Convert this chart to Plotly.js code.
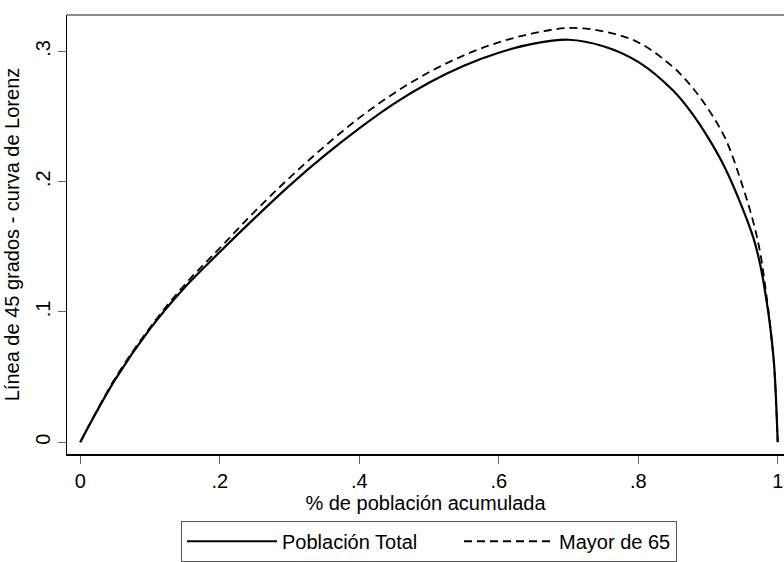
<!DOCTYPE html>
<html>
<head>
<meta charset="utf-8">
<script src="https://cdn.plot.ly/plotly-3.0.1.min.js"></script>
<style>
  html, body { margin: 0; padding: 0; background: #fff; }
  #chart { width: 784px; height: 562px; }
</style>
</head>
<body>
<div id="chart"></div>
<script>
// Cumulative population share (x)
const popShare = [0, 0.05, 0.1, 0.15, 0.2, 0.25, 0.3, 0.35, 0.4, 0.45, 0.5, 0.55, 0.6, 0.65, 0.7, 0.75, 0.8, 0.85, 0.875, 0.9, 0.925, 0.95, 0.965, 0.975, 0.985, 0.99, 0.995, 1];
// 45-degree line minus Lorenz curve
const totalPop = [0, 0.048, 0.087, 0.119, 0.146, 0.172, 0.197, 0.220, 0.241, 0.260, 0.276, 0.289, 0.299, 0.306, 0.309, 0.304, 0.292, 0.270, 0.254, 0.234, 0.210, 0.179, 0.157, 0.136, 0.105, 0.085, 0.058, 0];
const over65   = [0, 0.049, 0.088, 0.121, 0.149, 0.177, 0.203, 0.227, 0.249, 0.268, 0.284, 0.297, 0.307, 0.314, 0.318, 0.3155, 0.307, 0.288, 0.274, 0.256, 0.233, 0.196, 0.169, 0.145, 0.108, 0.086, 0.057, 0];

const seriesNames = ["Población Total", "Mayor de 65"];
const xTickVals = [0, 0.2, 0.4, 0.6, 0.8, 1];
const xTickText = ["0", ".2", ".4", ".6", ".8", "1"];
const yTickVals = [0, 0.1, 0.2, 0.3];
const yTickText = ["0", ".1", ".2", ".3"];

const font = "Liberation Sans, Arial, sans-serif";
const fs = 20;

const traces = [
  { x: popShare, y: totalPop, name: seriesNames[0], type: "scatter", mode: "lines",
    legendwidth: 172,
    line: { color: "#000", width: 2.2, shape: "spline", smoothing: 1 } },
  { x: popShare, y: over65, name: seriesNames[1], type: "scatter", mode: "lines",
    line: { color: "#000", width: 1.8, dash: "8px,5px", shape: "spline", smoothing: 1 } }
];

const layout = {
  width: 784, height: 562,
  margin: { l: 67, r: 0, t: 15, b: 102 },
  paper_bgcolor: "#fff", plot_bgcolor: "#fff",
  font: { family: font, size: fs, color: "#000" },
  showlegend: true,
  xaxis: {
    range: [-0.019, 1.009],
    tickvals: xTickVals, ticktext: xTickText,
    ticks: "outside", ticklen: 8, tickcolor: "#666", tickwidth: 1,
    showgrid: false, zeroline: false,
    showline: true, linecolor: "#000", linewidth: 2,
    tickfont: { family: font, size: fs },
    title: { text: "% de población acumulada", font: { family: font, size: fs }, standoff: 2 }
  },
  yaxis: {
    range: [-0.0091, 0.328],
    tickvals: yTickVals, ticktext: yTickText,
    tickangle: -90,
    ticks: "outside", ticklen: 8, tickcolor: "#666", tickwidth: 1,
    showgrid: false, zeroline: false,
    showline: true, linecolor: "#000", linewidth: 1.5,
    tickfont: { family: font, size: fs },
    title: { text: "Línea de 45 grados - curva de Lorenz", font: { family: font, size: fs }, standoff: 6 }
  },
  shapes: [
    { type: "line", xref: "paper", yref: "paper", x0: 0, x1: 1, y0: 1, y1: 1,
      line: { color: "#666", width: 1.5 } }
  ],
  legend: {
    orientation: "h",
    x: 0.159, xanchor: "left",
    y: -0.152, yanchor: "top",
    bordercolor: "#555", borderwidth: 1,
    bgcolor: "#fff",
    itemwidth: 90,
    font: { family: font, size: fs },
    traceorder: "normal"
  }
};

Plotly.newPlot("chart", traces, layout, { displayModeBar: false, staticPlot: true });
</script>
</body>
</html>
